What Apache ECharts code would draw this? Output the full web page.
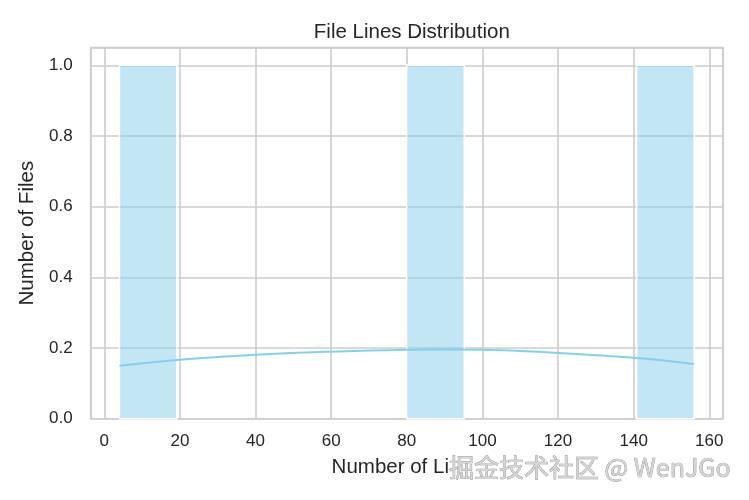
<!DOCTYPE html>
<html>
<head>
<meta charset="utf-8">
<script src="https://cdn.jsdelivr.net/npm/echarts@6/dist/echarts.min.js"></script>
<style>
html,body{margin:0;padding:0;background:#fff;}
#chart{width:749px;height:500px;}
</style>
</head>
<body>
<div id="chart"></div>
<script>
// ---- data ----
const binStarts = [4, 19.2, 34.4, 49.6, 64.8, 80, 95.2, 110.4, 125.6, 140.8];
const binEnds   = [19.2, 34.4, 49.6, 64.8, 80, 95.2, 110.4, 125.6, 140.8, 156];
const binCounts = [1, 0, 0, 0, 0, 1, 0, 0, 0, 1];
const kdeX = [4, 20, 40, 57, 70, 80, 90, 100, 110, 120, 130, 140, 148, 156];
const kdeY = [0.150, 0.167, 0.181, 0.189, 0.193, 0.195, 0.196, 0.195, 0.192, 0.186, 0.180, 0.173, 0.165, 0.155];
const titleText = 'File Lines Distribution';
const xLabel = 'Number of Lines';
const yLabel = 'Number of Files';
const watermark = '掘金技术社区 @ WenJGo';

const FONT = "'Liberation Sans', Arial, Helvetica, sans-serif";
const TEXT = '#262626';
const GRIDC = '#cccccc';

const barData = [];
for (let i = 0; i < binStarts.length; i++) {
  if (binCounts[i] > 0) barData.push([binStarts[i], binEnds[i], binCounts[i]]);
}
const lineData = kdeX.map((x, i) => [x, kdeY[i]]);

const chart = echarts.init(document.getElementById('chart'), null, {renderer: 'canvas'});

const gridL = 90.7, gridR = 749 - 722.9, gridT = 47.6, gridB = 500 - 418.8;

chart.setOption({
  backgroundColor: '#ffffff',
  animation: false,
  title: {
    text: titleText,
    left: (gridL + 722.9) / 2,
    textAlign: 'center',
    top: 17,
    textStyle: {fontFamily: FONT, fontSize: 20.5, fontWeight: 'normal', color: TEXT}
  },
  grid: {
    left: gridL, right: gridR, top: gridT, bottom: gridB,
    show: true, borderColor: GRIDC, borderWidth: 1.6, backgroundColor: 'transparent'
  },
  xAxis: {
    type: 'value',
    min: -3.6, max: 163.6,
    splitNumber: 8,
    name: xLabel,
    nameLocation: 'middle',
    nameGap: 38,
    nameTextStyle: {fontFamily: FONT, fontSize: 20.5, color: TEXT},
    axisLine: {show: false},
    axisTick: {show: false},
    axisLabel: {
      fontFamily: FONT, fontSize: 17, color: TEXT, margin: 14,
      showMinLabel: false, showMaxLabel: false,
      formatter: function (v) {
        if (Math.abs(v / 20 - Math.round(v / 20)) > 1e-6) return '';
        return String(Math.round(v));
      }
    },
    splitLine: {show: true, lineStyle: {color: GRIDC, width: 1.6}}
  },
  yAxis: {
    type: 'value',
    min: 0, max: 1.05,
    splitNumber: 5,
    name: yLabel,
    nameLocation: 'middle',
    nameGap: 48,
    nameTextStyle: {fontFamily: FONT, fontSize: 20.5, color: TEXT},
    axisLine: {show: false},
    axisTick: {show: false},
    axisLabel: {
      fontFamily: FONT, fontSize: 17, color: TEXT, margin: 18,
      showMaxLabel: false,
      formatter: function (v) {
        if (Math.abs(v / 0.2 - Math.round(v / 0.2)) > 1e-6) return '';
        return v.toFixed(1);
      }
    },
    splitLine: {show: true, lineStyle: {color: GRIDC, width: 1.6}}
  },
  series: [
    {
      type: 'custom',
      data: barData,
      encode: {x: [0, 1], y: 2},
      z: 2,
      renderItem: function (params, api) {
        const p0 = api.coord([api.value(0), 0]);
        const p1 = api.coord([api.value(1), api.value(2)]);
        return {
          type: 'rect',
          shape: {x: p0[0], y: p1[1], width: p1[0] - p0[0], height: p0[1] - p1[1]},
          style: {fill: 'rgba(135,206,235,0.5)', stroke: '#ffffff', lineWidth: 1.5}
        };
      }
    },
    {
      type: 'line',
      data: lineData,
      smooth: true,
      symbol: 'none',
      z: 3,
      lineStyle: {color: 'rgb(135,206,235)', width: 2}
    }
  ],
  graphic: [
    {
      type: 'rect', z: 100,
      shape: {x: 448, y: 454, width: 295, height: 28},
      style: {fill: '#ffffff'}
    },
    {
      type: 'text', z: 101,
      x: 449, y: 467,
      style: {
        text: watermark,
        font: "25px 'Noto Sans CJK SC', " + FONT,
        fill: '#d4d4d4',
        stroke: '#8a8a8a',
        lineWidth: 0.7,
        textVerticalAlign: 'middle',
        verticalAlign: 'middle'
      }
    }
  ]
});
</script>
</body>
</html>
